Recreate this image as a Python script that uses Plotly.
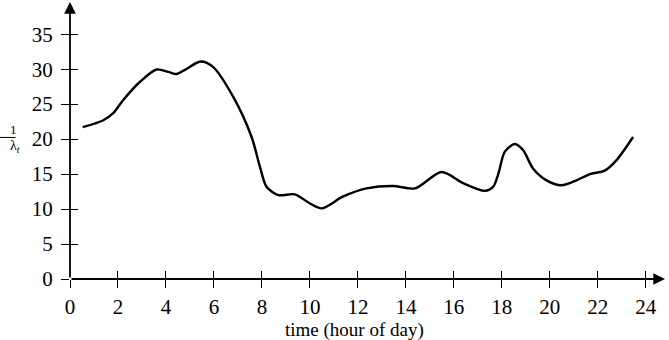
import plotly.graph_objects as go

hours = [0.53, 1.39, 1.8, 2.22, 2.92, 3.61, 4.1, 4.44, 4.79, 5.44, 5.97, 6.81, 7.57, 7.92,
         8.19, 8.68, 9.375, 10.0, 10.49, 11.39, 12.36, 13.47, 14.375, 15.49, 16.39, 17.29,
         17.64, 17.85, 18.125, 18.54, 18.89, 19.3, 19.86, 20.49, 21.11, 21.67, 22.29, 22.78, 23.47]
inv_lambda = [21.7, 22.7, 23.7, 25.6, 28.2, 29.95, 29.6, 29.3, 29.9, 31.1, 30.3, 26.0, 20.3, 16.0,
              13.2, 12.0, 12.1, 10.8, 10.1, 11.8, 12.95, 13.3, 12.95, 15.3, 13.7, 12.6,
              13.2, 15.0, 18.2, 19.3, 18.4, 15.8, 14.1, 13.4, 14.1, 15.0, 15.5, 17.0, 20.3]

x_ticks = [0, 2, 4, 6, 8, 10, 12, 14, 16, 18, 20, 22, 24]
y_ticks = [0, 5, 10, 15, 20, 25, 30, 35]
x_end = 24.8
y_end = 39.6
x_title = "time (hour of day)"

FONT = "Liberation Serif"

fig = go.Figure()
fig.add_trace(go.Scatter(x=hours, y=inv_lambda, mode="lines",
                         line=dict(color="black", width=2.4, shape="spline", smoothing=0.8),
                         showlegend=False, hoverinfo="skip"))
fig.add_trace(go.Scatter(x=[None], y=[None], xaxis="x2", yaxis="y2", showlegend=False))

axis_common = dict(showgrid=False, zeroline=False, showline=False, ticks="outside",
                   ticklen=8, tickwidth=1.2, tickcolor="black", automargin=False)

fig.update_layout(
    width=669, height=340,
    margin=dict(l=70, r=4, t=2, b=61),
    plot_bgcolor="white", paper_bgcolor="white",
    font=dict(family=FONT, size=21, color="black"),
    xaxis=dict(range=[0, x_end], tickvals=x_ticks, ticktext=[str(v) for v in x_ticks],
               ticklabelstandoff=1, **axis_common),
    yaxis=dict(range=[0, y_end], tickvals=y_ticks, ticktext=[str(v) for v in y_ticks],
               ticklabelstandoff=4, **axis_common),
    xaxis2=dict(overlaying="x", anchor="y", range=[0, x_end], tickvals=x_ticks,
                showticklabels=False, showgrid=False, zeroline=False, ticks="inside",
                ticklen=8, tickwidth=1.2, tickcolor="black", automargin=False),
    yaxis2=dict(overlaying="y", anchor="x", range=[0, y_end], tickvals=y_ticks,
                showticklabels=False, showgrid=False, zeroline=False, ticks="inside",
                ticklen=8, tickwidth=1.2, tickcolor="black", automargin=False),
)

# axes with arrow heads
fig.add_annotation(x=x_end, y=0, ax=0, ay=0, xref="x", yref="y", axref="x", ayref="y",
                   text="", showarrow=True, arrowhead=2, arrowsize=1.3, arrowwidth=1.8,
                   arrowcolor="black")
fig.add_annotation(x=0, y=y_end, ax=0, ay=0, xref="x", yref="y", axref="x", ayref="y",
                   text="", showarrow=True, arrowhead=2, arrowsize=1.3, arrowwidth=1.8,
                   arrowcolor="black")

# x axis title
fig.add_annotation(x=11.875, y=-0.184, xref="x", yref="paper", text=x_title,
                   showarrow=False, font=dict(size=19), yanchor="middle")

# y label as a fraction 1 / lambda_t
fig.add_annotation(x=-0.1045, y=0.518, xref="paper", yref="paper", text="1",
                   showarrow=False, font=dict(size=13), yanchor="bottom", yshift=-3)
fig.add_annotation(x=-0.1045, y=0.505, xref="paper", yref="paper",
                   text="λ<sub><i>t</i></sub>",
                   showarrow=False, font=dict(size=14), yanchor="top", yshift=3)
fig.add_shape(type="line", xref="paper", yref="paper", x0=-0.1175, x1=-0.0915,
              y0=0.511, y1=0.511, line=dict(color="black", width=1))

fig.write_html("out.html", config={"displayModeBar": False},
               post_script="document.body.style.margin='0';document.body.style.overflow='hidden';")
